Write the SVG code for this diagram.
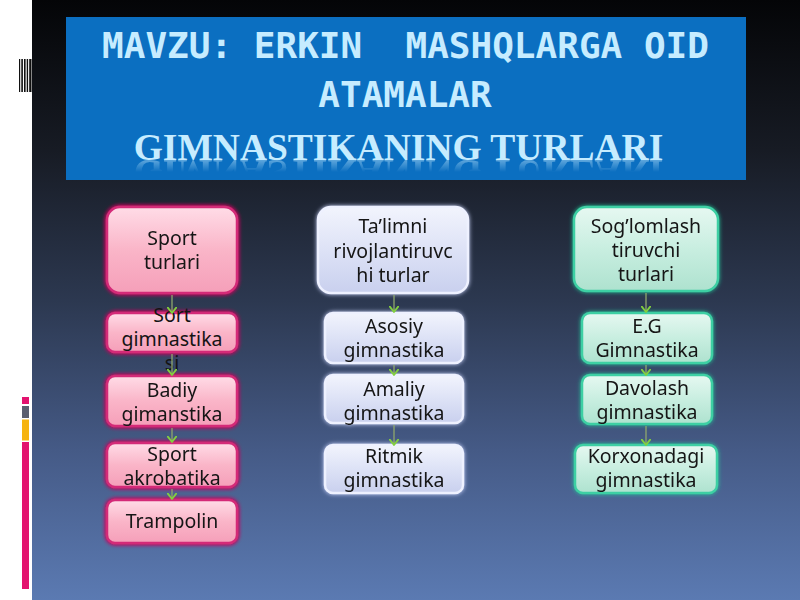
<svg xmlns="http://www.w3.org/2000/svg" width="800" height="600" viewBox="0 0 800 600">
<defs>
<linearGradient id="bg" x1="0" y1="0" x2="0" y2="1">
<stop offset="0" stop-color="#040507"/>
<stop offset="0.25" stop-color="#171b24"/>
<stop offset="0.5" stop-color="#2c3850"/>
<stop offset="0.75" stop-color="#455a86"/>
<stop offset="1" stop-color="#5b7ab2"/>
</linearGradient>
<linearGradient id="gPink" x1="0" y1="0" x2="0" y2="1">
<stop offset="0" stop-color="#ffdce7"/>
<stop offset="0.5" stop-color="#fab5c8"/>
<stop offset="1" stop-color="#f59fb9"/>
</linearGradient>
<linearGradient id="gBlue" x1="0" y1="0" x2="0" y2="1">
<stop offset="0" stop-color="#f2f4fd"/>
<stop offset="0.5" stop-color="#dde2f6"/>
<stop offset="1" stop-color="#c9d0ee"/>
</linearGradient>
<linearGradient id="gMint" x1="0" y1="0" x2="0" y2="1">
<stop offset="0" stop-color="#e6f8f1"/>
<stop offset="0.5" stop-color="#c8eee0"/>
<stop offset="1" stop-color="#aee2cf"/>
</linearGradient>
<linearGradient id="fade" x1="0" y1="0" x2="0" y2="1">
<stop offset="0" stop-color="#fff" stop-opacity="0.45"/>
<stop offset="0.6" stop-color="#fff" stop-opacity="0"/>
</linearGradient>
<mask id="reflMask" maskUnits="userSpaceOnUse" x="60" y="160" width="700" height="22">
<rect x="60" y="160" width="700" height="20" fill="url(#fade)"/>
</mask>
<filter id="glowPink" x="-20%" y="-20%" width="140%" height="140%">
<feGaussianBlur in="SourceAlpha" stdDeviation="2.2" result="b"/>
<feFlood flood-color="#c8105f" result="c"/>
<feComposite in="c" in2="b" operator="in" result="g"/>
<feMerge><feMergeNode in="g"/><feMergeNode in="g"/><feMergeNode in="SourceGraphic"/></feMerge>
</filter>
<filter id="glowBlue" x="-20%" y="-20%" width="140%" height="140%">
<feGaussianBlur in="SourceAlpha" stdDeviation="2.2" result="b"/>
<feFlood flood-color="#cfd8ff" result="c"/>
<feComposite in="c" in2="b" operator="in" result="g"/>
<feMerge><feMergeNode in="g"/><feMergeNode in="SourceGraphic"/></feMerge>
</filter>
<filter id="glowMint" x="-20%" y="-20%" width="140%" height="140%">
<feGaussianBlur in="SourceAlpha" stdDeviation="2.2" result="b"/>
<feFlood flood-color="#22c79a" result="c"/>
<feComposite in="c" in2="b" operator="in" result="g"/>
<feMerge><feMergeNode in="g"/><feMergeNode in="SourceGraphic"/></feMerge>
</filter>
<marker id="arr" viewBox="0 0 7 10" refX="6.2" refY="5" markerWidth="7" markerHeight="10" markerUnits="userSpaceOnUse" orient="auto">
<polyline points="0.8,0.8 6.2,5 0.8,9.2" fill="none" stroke="#82cf3e" stroke-width="1.8" stroke-linecap="round" stroke-linejoin="round"/>
</marker>
<style>
.pink{fill:url(#gPink);stroke:#d42a78;stroke-width:2.5}
.blue{fill:url(#gBlue);stroke:#eef1ff;stroke-width:2.5}
.mint{fill:url(#gMint);stroke:#3ccfa3;stroke-width:2.5}
.t{font-family:"Noto Sans","Open Sans","DejaVu Sans",sans-serif;font-size:19.5px;fill:#141414;text-anchor:middle}
.conn line{stroke:#8fa76c;stroke-width:1.3;marker-end:url(#arr)}
.ttl{font-family:"DejaVu Sans Mono","Liberation Mono",monospace;font-weight:bold;font-size:36px;fill:#c6ecff;text-anchor:middle}
.ttl2{font-family:"Liberation Serif","Times New Roman",serif;font-weight:bold;font-size:37.5px;fill:#c6ecff;text-anchor:middle}
</style>
</defs>

<rect x="0" y="0" width="800" height="600" fill="#ffffff"/>
<rect x="32" y="0" width="768" height="600" fill="url(#bg)"/>

<!-- left decorations -->
<g id="barcode" fill="#111">
<rect x="19" y="59" width="1.2" height="33"/>
<rect x="21.3" y="59" width="1.6" height="33"/>
<rect x="24" y="59" width="1.6" height="33"/>
<rect x="26.7" y="59" width="1.4" height="33"/>
<rect x="29.2" y="59" width="2.3" height="33"/>
</g>
<g id="bars">
<rect x="22" y="397" width="7" height="7" fill="#e3136f"/>
<rect x="22" y="406" width="7" height="12" fill="#5b5f70"/>
<rect x="22" y="419.5" width="7" height="21" fill="#f6b310"/>
<rect x="22" y="442" width="7" height="147" fill="#e3136f"/>
</g>

<!-- title -->
<g id="title">
<rect x="66" y="17" width="680" height="163" fill="#0b6fc1"/>
<text class="ttl" x="405.5" y="58" xml:space="preserve">MAVZU: ERKIN  MASHQLARGA OID</text>
<text class="ttl" x="405" y="107">ATAMALAR</text>
<text class="ttl2" x="398.5" y="160">GIMNASTIKANING TURLARI</text>
<g mask="url(#reflMask)">
<text class="ttl2" x="398.5" y="-160" transform="scale(1,-1)">GIMNASTIKANING TURLARI</text>
</g>
</g>

<!-- column 1 -->
<g id="n-sport-turlari" filter="url(#glowPink)">
<rect class="pink" x="107" y="207" width="130" height="86" rx="13"/>
<text class="t" x="172" y="245">Sport</text>
<text class="t" x="172" y="269">turlari</text>
</g>
<g id="n-sort-gimnastikasi">
<rect class="pink" x="107" y="313" width="130" height="39" rx="8" filter="url(#glowPink)"/>
<text class="t" x="172" y="322">Sort</text>
<text class="t" x="172" y="346">gimnastika</text>
<text class="t" x="172" y="370">si</text>
</g>
<g id="n-badiy" filter="url(#glowPink)">
<rect class="pink" x="107" y="376" width="130" height="50" rx="8"/>
<text class="t" x="172" y="397">Badiy</text>
<text class="t" x="172" y="421">gimanstika</text>
</g>
<g id="n-sport-akrobatika" filter="url(#glowPink)">
<rect class="pink" x="107" y="443" width="130" height="44" rx="8"/>
<text class="t" x="172" y="461">Sport</text>
<text class="t" x="172" y="485">akrobatika</text>
</g>
<g id="n-trampolin" filter="url(#glowPink)">
<rect class="pink" x="107" y="500" width="130" height="43" rx="8"/>
<text class="t" x="172" y="528">Trampolin</text>
</g>

<!-- column 2 -->
<g id="n-talimni" filter="url(#glowBlue)">
<rect class="blue" x="318" y="207" width="150" height="86" rx="13"/>
<text class="t" x="393" y="233">Ta’limni</text>
<text class="t" x="393" y="258">rivojlantiruvc</text>
<text class="t" x="393" y="282">hi turlar</text>
</g>
<g id="n-asosiy" filter="url(#glowBlue)">
<rect class="blue" x="325" y="313" width="138" height="50" rx="8"/>
<text class="t" x="394" y="333">Asosiy</text>
<text class="t" x="394" y="357">gimnastika</text>
</g>
<g id="n-amaliy" filter="url(#glowBlue)">
<rect class="blue" x="325" y="375" width="138" height="48" rx="8"/>
<text class="t" x="394" y="396">Amaliy</text>
<text class="t" x="394" y="420">gimnastika</text>
</g>
<g id="n-ritmik" filter="url(#glowBlue)">
<rect class="blue" x="325" y="445" width="138" height="48" rx="8"/>
<text class="t" x="394" y="463">Ritmik</text>
<text class="t" x="394" y="487">gimnastika</text>
</g>

<!-- column 3 -->
<g id="n-soglomlash" filter="url(#glowMint)">
<rect class="mint" x="574" y="207" width="144" height="84" rx="13"/>
<text class="t" x="646" y="233">Sog’lomlash</text>
<text class="t" x="646" y="257">tiruvchi</text>
<text class="t" x="646" y="281">turlari</text>
</g>
<g id="n-eg" filter="url(#glowMint)">
<rect class="mint" x="582" y="313" width="130" height="50" rx="8"/>
<text class="t" x="647" y="333">E.G</text>
<text class="t" x="647" y="357">Gimnastika</text>
</g>
<g id="n-davolash" filter="url(#glowMint)">
<rect class="mint" x="582" y="375" width="130" height="49" rx="8"/>
<text class="t" x="647" y="395">Davolash</text>
<text class="t" x="647" y="419">gimnastika</text>
</g>
<g id="n-korxonadagi" filter="url(#glowMint)">
<rect class="mint" x="575" y="445" width="142" height="48" rx="8"/>
<text class="t" x="646" y="463">Korxonadagi</text>
<text class="t" x="646" y="487">gimnastika</text>
</g>

<!-- connectors -->
<g id="connectors" class="conn">
<line x1="172" y1="295" x2="172" y2="313"/>
<line x1="172" y1="354" x2="172" y2="375"/>
<line x1="172" y1="428" x2="172" y2="442"/>
<line x1="172" y1="489" x2="172" y2="499"/>
<line x1="394" y1="295" x2="394" y2="312"/>
<line x1="394" y1="365" x2="394" y2="375"/>
<line x1="394" y1="425" x2="394" y2="445"/>
<line x1="646" y1="293" x2="646" y2="312"/>
<line x1="646" y1="365" x2="646" y2="375"/>
<line x1="646" y1="426" x2="646" y2="445"/>
</g>
</svg>
